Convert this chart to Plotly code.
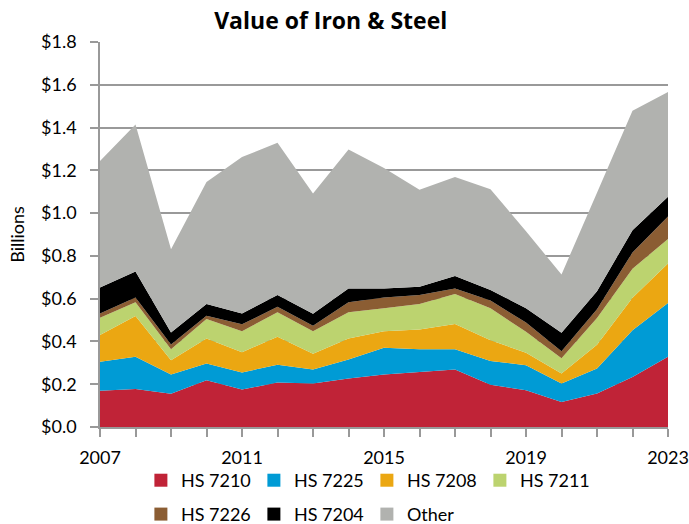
import plotly.graph_objects as go

# years on the x axis
years = list(range(2007, 2024))

# values in billions of dollars
hs_7210 = [0.169, 0.178, 0.155, 0.219, 0.175, 0.208, 0.203, 0.227, 0.245, 0.258, 0.269, 0.198, 0.172, 0.117, 0.157, 0.234, 0.328]
hs_7225 = [0.136, 0.150, 0.090, 0.078, 0.080, 0.083, 0.066, 0.089, 0.125, 0.105, 0.095, 0.111, 0.117, 0.086, 0.116, 0.218, 0.252]
hs_7208 = [0.125, 0.191, 0.067, 0.117, 0.095, 0.131, 0.073, 0.098, 0.078, 0.093, 0.117, 0.097, 0.058, 0.047, 0.112, 0.152, 0.184]
hs_7211 = [0.081, 0.064, 0.052, 0.091, 0.098, 0.114, 0.106, 0.122, 0.107, 0.119, 0.141, 0.149, 0.098, 0.071, 0.125, 0.136, 0.115]
hs_7226 = [0.020, 0.023, 0.022, 0.015, 0.032, 0.026, 0.025, 0.047, 0.051, 0.042, 0.026, 0.036, 0.043, 0.033, 0.040, 0.076, 0.105]
hs_7204 = [0.121, 0.121, 0.056, 0.055, 0.051, 0.055, 0.057, 0.065, 0.042, 0.039, 0.058, 0.050, 0.067, 0.087, 0.085, 0.104, 0.092]
other = [0.592, 0.687, 0.389, 0.571, 0.731, 0.712, 0.562, 0.649, 0.563, 0.453, 0.463, 0.471, 0.360, 0.272, 0.460, 0.558, 0.490]

series_names = ["HS 7210", "HS 7225", "HS 7208", "HS 7211", "HS 7226", "HS 7204", "Other"]
series_values = [hs_7210, hs_7225, hs_7208, hs_7211, hs_7226, hs_7204, other]
colors = ["#C02337", "#009BD5", "#EBA712", "#BCD36F", "#8B5D33", "#000000", "#B1B2AF"]

# only every 4th year gets a label
tick_text = [str(y) if (y - 2007) % 4 == 0 else "" for y in years]

font_name = "Lato"
axis_grey = "#999999"
fig_w, fig_h = 689, 524

fig = go.Figure()

# stacked areas
for name, vals, col in zip(series_names, series_values, colors):
    fig.add_trace(go.Scatter(
        x=years, y=vals, name=name, stackgroup="one",
        mode="lines", line=dict(width=0, color=col), fillcolor=col,
        showlegend=False, hoverinfo="x+y+name"))

# legend entries as square markers, first four in row one, the rest in row two
for i, (name, col) in enumerate(zip(series_names, colors)):
    fig.add_trace(go.Scatter(
        x=[None], y=[None], name=name, mode="markers",
        marker=dict(symbol="square", size=13, color=col),
        legend="legend" if i < 4 else "legend2"))

fig.update_xaxes(
    range=[2007, 2023], tickmode="array", tickvals=years, ticktext=tick_text,
    ticks="outside", ticklen=8, tickcolor=axis_grey, tickwidth=1.5,
    showline=True, linecolor=axis_grey, linewidth=1.5, showgrid=False,
    zeroline=False, automargin=False, ticklabelstandoff=6,
    tickfont=dict(size=18, color="black"))

fig.update_yaxes(
    range=[0, 1.8], dtick=0.2, tickformat="$.1f",
    ticks="outside", ticklen=8, tickcolor=axis_grey, tickwidth=1.5,
    showline=True, linecolor=axis_grey, linewidth=1.5,
    showgrid=True, gridcolor=axis_grey, gridwidth=1.5, zeroline=False,
    automargin=False, ticklabelstandoff=10,
    tickfont=dict(size=18, color="black"),
    title=dict(text="Billions", font=dict(size=18, color="black"), standoff=12))

legend_style = dict(
    orientation="h", xanchor="left", yanchor="middle",
    font=dict(size=18, color="black", family=font_name),
    entrywidth=68, entrywidthmode="pixels", itemwidth=30,
    traceorder="normal", bgcolor="rgba(0,0,0,0)", tracegroupgap=0)

fig.update_layout(
    width=fig_w, height=fig_h,
    margin=dict(l=100, r=21, t=42, b=97, autoexpand=False),
    paper_bgcolor="white", plot_bgcolor="white",
    font=dict(family=font_name, color="black"),
    title=dict(text="<b>Value of Iron & Steel</b>", x=0.480, xanchor="center",
               y=1 - 21 / fig_h, yanchor="middle",
               font=dict(size=23, color="black", family="Open Sans")),
    legend=dict(x=0.072, y=-0.139, **legend_style),
    legend2=dict(x=0.072, y=-0.227, **legend_style),
)

# drop the default page margin so the figure fills the window exactly
fig.write_html("out.html", config={"displayModeBar": False},
               post_script="document.body.style.margin = '0';")
